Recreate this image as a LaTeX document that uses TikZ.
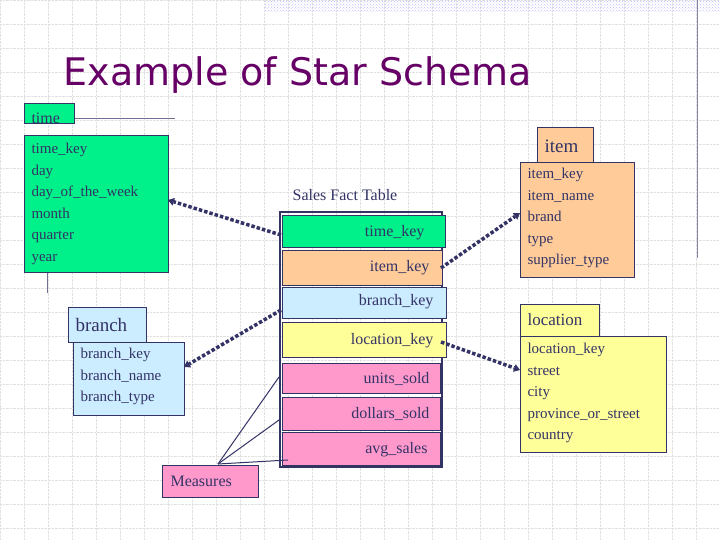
\documentclass[tikz,border=0pt]{standalone}
\usepackage{fontspec}
\setmainfont{Liberation Serif}
\newfontfamily\titlefont{DejaVu Sans}
\usetikzlibrary{arrows.meta,patterns}
\definecolor{tgreen}{HTML}{00F08A}
\definecolor{torange}{HTML}{FFCC99}
\definecolor{tblue}{HTML}{CCECFF}
\definecolor{tyellow}{HTML}{FFFF99}
\definecolor{tpink}{HTML}{FF99CC}
\definecolor{navy}{HTML}{333366}
\definecolor{ttl}{HTML}{660066}
\tikzset{
 box/.style={draw=navy,line width=0.8pt,inner sep=0pt,anchor=north west},
 lbl/.style={anchor=west,font=\fontsize{16}{16}\selectfont,text=navy},
 lst/.style={anchor=north west,align=left,font=\fontsize{15}{21.5}\selectfont,text=navy},
 row/.style={draw=navy,line width=1pt,anchor=north west},
 rt/.style={anchor=east,font=\fontsize{16}{16}\selectfont,text=navy},
 link/.style={navy,line width=3.5pt,dotted,-{Triangle[length=6pt,width=8pt,line width=0pt]}},
 ms/.style={navy,line width=1pt}
}
\begin{document}
\begin{tikzpicture}[x=1pt,y=-1pt]
\useasboundingbox (0,0) rectangle (720,540);
\fill[white] (0,0) rectangle (720,540);
\foreach \i in {0,...,30} {\draw[black!12,densely dotted,line width=0.4pt] (\i*24,0) -- (\i*24,540);}
\foreach \j in {0,...,23} {\draw[black!12,densely dotted,line width=0.4pt] (0,\j*24) -- (720,\j*24);}
\fill[pattern=crosshatch dots,pattern color=blue!25] (265,0) rectangle (720,12);
\draw[navy!60,line width=0.6pt] (697,0) -- (697,258);
\node[anchor=west,text=ttl,font=\titlefont\fontsize{38}{38}\selectfont] (title) at (60,75) {Example of Star Schema};
% time
\draw[navy!70,line width=0.6pt] (74,118) -- (175,118);
\draw[navy!70,line width=0.6pt] (47,272) -- (47,293);
\path[box,fill=tgreen] (24,103) rectangle (74,123);
\node[lbl] (timel) at (28,118) {time};
\path[box,fill=tgreen] (24,135) rectangle (168,272);
\node[lst] (time) at (28,140) {time\_key\\day\\day\_of\_the\_week\\month\\quarter\\year};
\coordinate (timeA) at (168,200);
% item
\path[box,fill=torange] (537,127) rectangle (593,162);
\node[lbl,font=\fontsize{19}{19}\selectfont] (iteml) at (541,146) {item};
\path[box,fill=torange] (520,162) rectangle (634,277);
\node[lst] (item) at (524,165) {item\_key\\item\_name\\brand\\type\\supplier\_type};
\coordinate (itemA) at (520,213);
% location
\path[box,fill=tyellow] (520,304) rectangle (599,336);
\node[lbl,font=\fontsize{17}{17}\selectfont] (locl) at (524,320) {location};
\path[box,fill=tyellow] (520,336) rectangle (666,452);
\node[lst] (loc) at (524,340) {location\_key\\street\\city\\province\_or\_street\\country};
\coordinate (locA) at (520,370);
% branch
\path[box,fill=tblue] (68,307) rectangle (146,342);
\node[lbl,font=\fontsize{19}{19}\selectfont] (brl) at (72,325) {branch};
\path[box,fill=tblue] (73,342) rectangle (184,415);
\node[lst] (br) at (77,345) {branch\_key\\branch\_name\\branch\_type};
\coordinate (brA) at (184,367);
% fact
\node[anchor=center,font=\fontsize{16}{16}\selectfont,text=navy] (sft) at (345,195) {Sales Fact Table};
\draw[navy,line width=1.5pt] (280,212) rectangle (442,467);
\path[row,fill=tgreen] (282,216) rectangle (445,247);
\node[rt] (f1) at (428,233) {time\_key};
\path[row,fill=torange] (282,250) rectangle (442,285);
\node[rt] (f2) at (433,268) {item\_key};
\path[row,fill=tblue] (282,287) rectangle (446,318);
\node[rt] (f3) at (437,302) {branch\_key};
\path[row,fill=tyellow] (282,322) rectangle (446,357);
\node[rt] (f4) at (437,341) {location\_key};
\path[row,fill=tpink] (282,363) rectangle (440,393);
\node[rt] (f5) at (433,379) {units\_sold};
\path[row,fill=tpink] (282,397) rectangle (440,430);
\node[rt] (f6) at (433,414) {dollars\_sold};
\path[row,fill=tpink] (282,432) rectangle (440,465);
\node[rt] (f7) at (431,450) {avg\_sales};
\coordinate (c1) at (281,235);
\coordinate (c2) at (441,268);
\coordinate (c3) at (281,310);
\coordinate (c4) at (441,342);
\draw[link] (c1) -- (timeA);
\draw[link] (c2) -- (itemA);
\draw[link] (c3) -- (brA);
\draw[link] (c4) -- (locA);
% measures
\path[box,fill=tpink] (162,465) rectangle (258,497);
\node[lbl] (meas) at (167,481) {Measures};
\coordinate (mt) at (218,464);
\coordinate (m1) at (279,377);
\coordinate (m2) at (279,420);
\coordinate (m3) at (288,460);
\draw[ms] (mt) -- (m1);
\draw[ms] (mt) -- (m2);
\draw[ms] (mt) -- (m3);
\end{tikzpicture}
\end{document}
